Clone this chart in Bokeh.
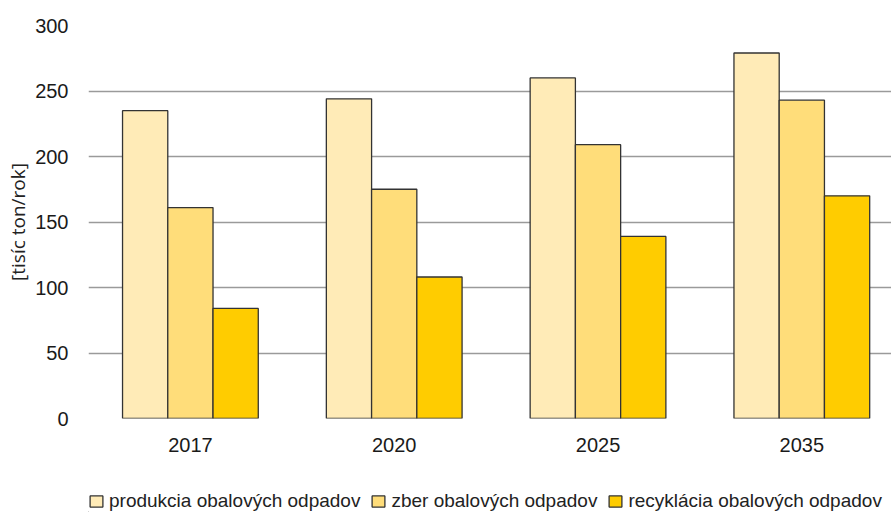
from bokeh.plotting import figure
from bokeh.layouts import column
from bokeh.models import ColumnDataSource, Range1d, FixedTicker, Legend, LegendItem
from bokeh.embed import file_html
from bokeh.resources import INLINE

# Packaging waste in Slovakia, thousand tonnes per year
years = ["2017", "2020", "2025", "2035"]
produkcia = [235, 244, 260, 279]
zber = [161, 175, 209, 243]
recyklacia = [84, 108, 139, 170]

series_names = [
    "produkcia obalových odpadov",
    "zber obalových odpadov",
    "recyklácia obalových odpadov",
]
series_colors = ["#FFEBB7", "#FFDD7A", "#FFCC00"]
outline = "#333333"

bar_w = 0.222
offsets = [-bar_w, 0.0, bar_w]
xs = list(range(len(years)))

font = "Liberation Sans"

p = figure(
    width=891, height=470,
    output_backend="svg", toolbar_location=None,
    x_range=Range1d(-0.5, 3.44), y_range=Range1d(0, 300),
    min_border_left=88, min_border_right=0, min_border_top=25, min_border_bottom=52,
)
p.outline_line_color = None

for vals, off, col in zip([produkcia, zber, recyklacia], offsets, series_colors):
    src = ColumnDataSource(dict(x=[x + off for x in xs], top=vals))
    p.vbar(x="x", top="top", width=bar_w, bottom=0, source=src,
           fill_color=col, line_color=outline, line_width=1.3)

# axes
p.xaxis.ticker = FixedTicker(ticks=xs)
p.xaxis.major_label_overrides = {i: y for i, y in enumerate(years)}
p.xaxis.axis_line_color = None
p.xaxis.major_tick_line_color = None
p.xaxis.minor_tick_line_color = None
p.xaxis.major_label_standoff = 13
p.xaxis.major_label_text_font = font
p.xaxis.major_label_text_font_size = "20px"
p.xaxis.major_label_text_color = "#1a1a1a"

p.yaxis.ticker = FixedTicker(ticks=[0, 50, 100, 150, 200, 250, 300])
p.yaxis.axis_line_color = None
p.yaxis.major_tick_line_color = None
p.yaxis.minor_tick_line_color = None
p.yaxis.major_label_standoff = 14
p.yaxis.major_label_text_font = font
p.yaxis.major_label_text_font_size = "20px"
p.yaxis.major_label_text_color = "#1a1a1a"
p.yaxis.axis_label = "[tisíc ton/rok]"
p.yaxis.axis_label_text_font = "Open Sans"
p.yaxis.axis_label_text_font_style = "normal"
p.yaxis.axis_label_text_font_size = "19px"
p.yaxis.axis_label_text_color = "#222222"
p.yaxis.axis_label_standoff = 1

p.xgrid.grid_line_color = None
p.ygrid.grid_line_color = "#9a9a9a"
p.ygrid.grid_line_width = 1.5

# legend strip underneath the chart; its swatch renderers sit outside the visible range
leg = figure(
    width=891, height=42,
    output_backend="svg", toolbar_location=None,
    x_range=Range1d(0, 1), y_range=Range1d(0, 1),
    x_axis_location=None, y_axis_location=None,
    min_border=0,
)
leg.outline_line_color = None
leg.grid.visible = False

swatches = []
for col in series_colors:
    swatches.append(leg.vbar(x=[-10], top=[-10], bottom=[-11], width=0.1,
                             fill_color=col, line_color=outline, line_width=1.3))

legend = Legend(
    items=[LegendItem(label=n, renderers=[r]) for n, r in zip(series_names, swatches)],
    orientation="horizontal",
    location=(0, 0),
    border_line_color=None,
    background_fill_alpha=0,
    glyph_width=16, glyph_height=14,
    label_standoff=5, spacing=10,
    padding=0, margin=0,
    label_text_font=font, label_text_font_size="19px", label_text_color="#222222",
)
leg.add_layout(legend, "center")

page = column(p, leg, spacing=0)

open("out.html", "w").write(file_html(page, INLINE))
